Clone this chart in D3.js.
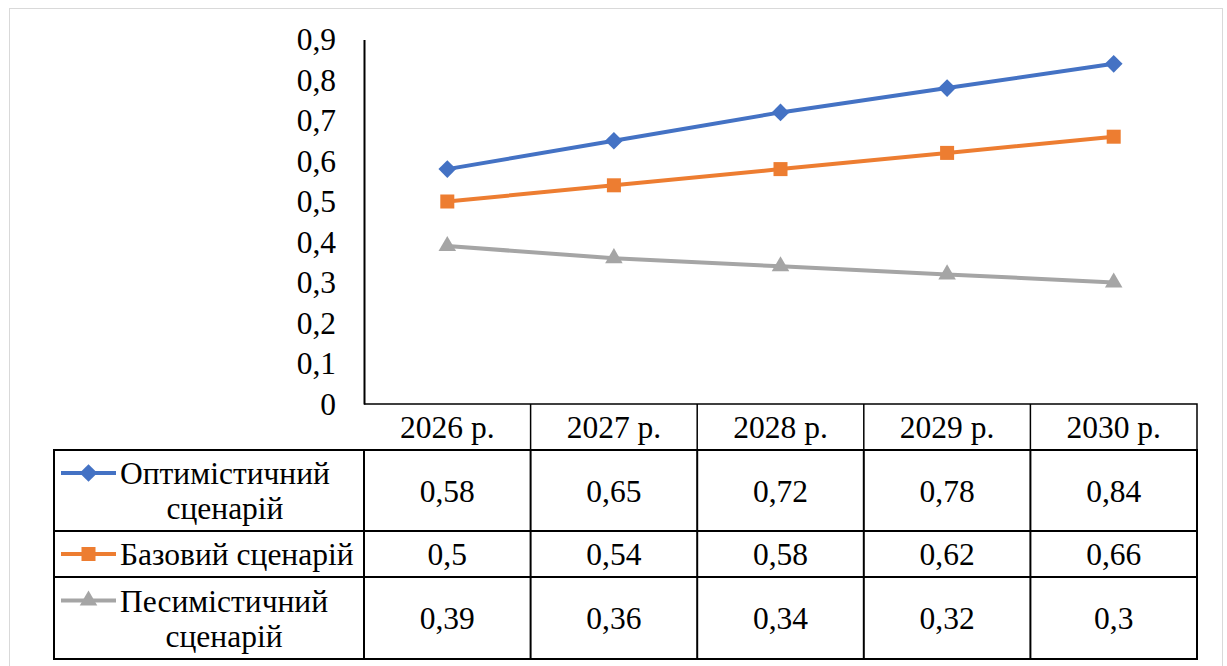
<!DOCTYPE html>
<html>
<head>
<meta charset="utf-8">
<script src="https://cdn.jsdelivr.net/npm/d3@7"></script>
<style>
  html, body { margin: 0; padding: 0; background: #fff; }
  svg { display: block; }
  svg text { font-family: 'Liberation Serif', 'Times New Roman', serif; fill: #000; }
</style>
</head>
<body>
<svg id="chart" width="1227" height="666"></svg>
<script>
// Scenario forecast, 2026–2030
const years = ["2026 р.", "2027 р.", "2028 р.", "2029 р.", "2030 р."];
const seriesNames = ["Оптимістичний сценарій", "Базовий сценарій", "Песимістичний сценарій"];
const optimistic = [0.58, 0.65, 0.72, 0.78, 0.84];
const base = [0.5, 0.54, 0.58, 0.62, 0.66];
const pessimistic = [0.39, 0.36, 0.34, 0.32, 0.3];
const yTicks = [0, 0.1, 0.2, 0.3, 0.4, 0.5, 0.6, 0.7, 0.8, 0.9];

const series = [
  { name: seriesNames[0], lines: ["Оптимістичний", "сценарій"], values: optimistic, color: "#4472C4", symbol: "diamond" },
  { name: seriesNames[1], lines: ["Базовий сценарій"], values: base, color: "#ED7D31", symbol: "square" },
  { name: seriesNames[2], lines: ["Песимістичний", "сценарій"], values: pessimistic, color: "#A5A5A5", symbol: "triangle" }
];

const svg = d3.select("#chart");
const fontSize = 31.5;
const serif = "'Liberation Serif', 'Times New Roman', serif";
const comma = d3.formatLocale({ decimal: ",", thousands: " ", grouping: [3], currency: ["", ""] });
const fmt = v => comma.format("~g")(v);

// chart frame
svg.append("rect")
  .attr("x", 9.5).attr("y", 8.5)
  .attr("width", 1213).attr("height", 700)
  .attr("fill", "none").attr("stroke", "#d9d9d9").attr("stroke-width", 1);

// geometry
const plotLeft = 364, plotRight = 1197;
const plotTop = 39.5, plotBottom = 404;
const tableLeft = 54;
const rowBounds = [404, 450, 531, 577, 659]; // header, series rows

const x = d3.scaleBand().domain(years).range([plotLeft, plotRight]).padding(0);
const y = d3.scaleLinear().domain([0, 0.9]).range([plotBottom, plotTop]);

// value axis
const yAxis = svg.append("g")
  .attr("transform", `translate(${plotLeft},0)`)
  .call(d3.axisLeft(y).tickValues(yTicks).tickFormat(fmt).tickSize(0).tickPadding(28))
  .attr("font-family", serif)
  .attr("font-size", fontSize);
yAxis.select(".domain").attr("stroke", "#000").attr("stroke-width", 2);
yAxis.selectAll("text").attr("fill", "#000");

// lines and markers
const line = d3.line()
  .x((d, i) => x(years[i]) + x.bandwidth() / 2)
  .y(d => y(d));

const symbolType = { diamond: d3.symbolDiamond2, square: d3.symbolSquare2, triangle: d3.symbolTriangle2 };
const symbolSize = { diamond: 200, square: 250, triangle: 220 };

series.forEach(s => {
  svg.append("path")
    .datum(s.values)
    .attr("d", line)
    .attr("fill", "none")
    .attr("stroke", s.color)
    .attr("stroke-width", 4)
    .attr("stroke-linejoin", "round");
  svg.append("g").selectAll("path")
    .data(s.values)
    .join("path")
    .attr("transform", (d, i) => `translate(${x(years[i]) + x.bandwidth() / 2},${y(d)})`)
    .attr("d", d3.symbol().type(symbolType[s.symbol]).size(symbolSize[s.symbol]))
    .attr("fill", s.color);
});

// data table
const table = svg.append("g").attr("font-family", serif).attr("font-size", fontSize);

// header row
table.selectAll("text.hdr")
  .data(years)
  .join("text")
  .attr("class", "hdr")
  .attr("x", d => x(d) + x.bandwidth() / 2)
  .attr("y", (rowBounds[0] + rowBounds[1]) / 2)
  .attr("dy", "0.35em")
  .attr("text-anchor", "middle")
  .text(d => d);

series.forEach((s, r) => {
  const top = rowBounds[r + 1], bottom = rowBounds[r + 2];
  const mid = (top + bottom) / 2;
  // values
  table.selectAll(null)
    .data(s.values)
    .join("text")
    .attr("x", (d, i) => x(years[i]) + x.bandwidth() / 2)
    .attr("y", mid)
    .attr("dy", "0.35em")
    .attr("text-anchor", "middle")
    .text(d => fmt(d));

  // legend key
  const lineGap = 35;
  const firstY = mid - (s.lines.length - 1) * lineGap / 2;
  table.append("line")
    .attr("x1", 61).attr("x2", 116)
    .attr("y1", firstY).attr("y2", firstY)
    .attr("stroke", s.color).attr("stroke-width", 4);
  table.append("path")
    .attr("transform", `translate(88.5,${firstY})`)
    .attr("d", d3.symbol().type(symbolType[s.symbol]).size(symbolSize[s.symbol]))
    .attr("fill", s.color);

  // legend label
  const label = table.append("text");
  const first = label.append("tspan")
    .attr("x", 120).attr("y", firstY).attr("dy", "0.35em")
    .text(s.lines[0]);
  if (s.lines.length > 1) {
    const w = first.node().getComputedTextLength();
    label.append("tspan")
      .attr("x", 120 + w / 2).attr("y", firstY + lineGap).attr("dy", "0.35em")
      .attr("text-anchor", "middle")
      .text(s.lines[1]);
  }
});

// header grid
const grid = svg.append("g").attr("fill", "none").attr("stroke", "#000");
grid.append("path")
  .attr("stroke-width", 1.5)
  .attr("d", `M${plotLeft},${rowBounds[0]}H${plotRight}V${rowBounds[1]}`);
years.forEach((d, i) => {
  if (i > 0) grid.append("line")
    .attr("stroke-width", 1.5)
    .attr("x1", x(d)).attr("x2", x(d))
    .attr("y1", rowBounds[0]).attr("y2", rowBounds[1]);
});

// body grid
grid.append("rect")
  .attr("stroke-width", 2)
  .attr("x", tableLeft).attr("y", rowBounds[1])
  .attr("width", plotRight - tableLeft).attr("height", rowBounds[4] - rowBounds[1]);
[rowBounds[2], rowBounds[3]].forEach(yy => {
  grid.append("line").attr("stroke-width", 2)
    .attr("x1", tableLeft).attr("x2", plotRight).attr("y1", yy).attr("y2", yy);
});
years.forEach(d => {
  grid.append("line").attr("stroke-width", 2)
    .attr("x1", x(d)).attr("x2", x(d))
    .attr("y1", rowBounds[1]).attr("y2", rowBounds[4]);
});
</script>
</body>
</html>
